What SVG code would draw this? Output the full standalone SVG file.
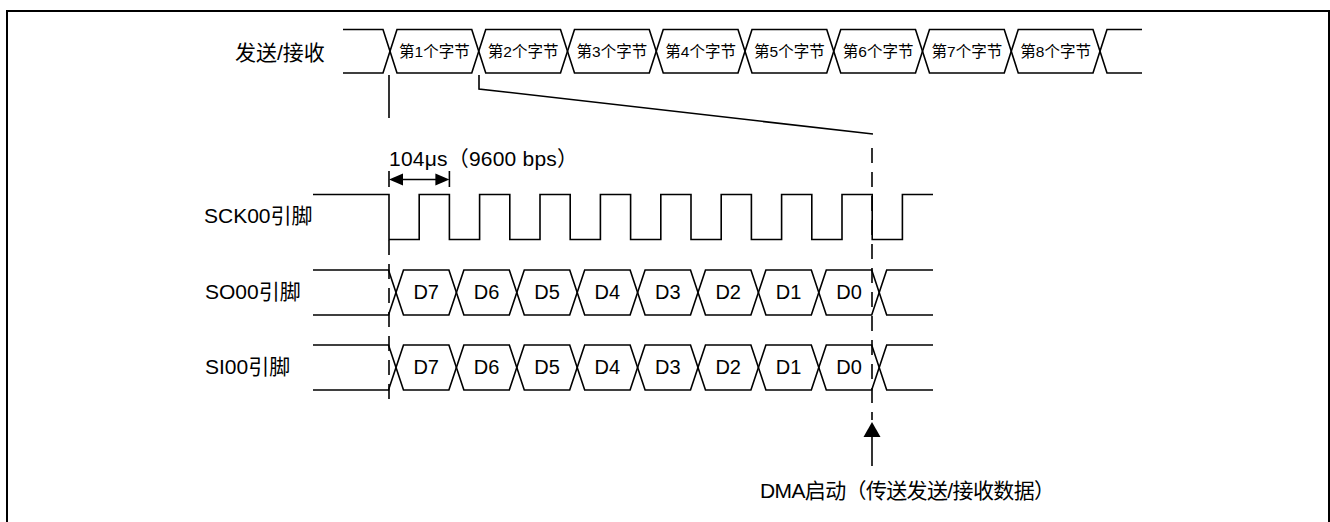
<svg xmlns="http://www.w3.org/2000/svg" width="1330" height="522" viewBox="0 0 1330 522">
<style>
.w{fill:none;stroke:#000;stroke-width:1.6;stroke-linejoin:miter}
.d{fill:none;stroke:#000;stroke-width:1.6;stroke-dasharray:15 9}
.t{font-family:"Liberation Sans","Noto Sans CJK SC",sans-serif;fill:#000}
.lb{font-size:21px}
.by{font-size:15.5px;text-anchor:middle}
.dt{font-size:20px;text-anchor:middle}
</style>
<rect x="7" y="11" width="1322" height="530" fill="#fff" stroke="#000" stroke-width="2"/>
<g id="label-bus"><text class="t lb" x="235" y="60">发送/接收</text></g>
<g id="label-sck"><text class="t lb" x="204" y="223">SCK00引脚</text></g>
<g id="label-so"><text class="t lb" x="205" y="299">SO00引脚</text></g>
<g id="label-si"><text class="t lb" x="205" y="374">SI00引脚</text></g>
<g id="bus">
<polyline class="w" points="343,29.5 383,29.5 397,73 471.75,73 485.75,29.5 560.5,29.5 574.5,73 649.25,73 663.25,29.5 738,29.5 752,73 826.75,73 840.75,29.5 915.5,29.5 929.5,73 1004.25,73 1018.25,29.5 1093,29.5 1107,73 1142,73"/>
<polyline class="w" points="343,73 383,73 397,29.5 471.75,29.5 485.75,73 560.5,73 574.5,29.5 649.25,29.5 663.25,73 738,73 752,29.5 826.75,29.5 840.75,73 915.5,73 929.5,29.5 1004.25,29.5 1018.25,73 1093,73 1107,29.5 1142,29.5"/>
<text class="t by" x="434.4" y="57">第1个字节</text>
<text class="t by" x="523.1" y="57">第2个字节</text>
<text class="t by" x="611.9" y="57">第3个字节</text>
<text class="t by" x="700.6" y="57">第4个字节</text>
<text class="t by" x="789.4" y="57">第5个字节</text>
<text class="t by" x="878.1" y="57">第6个字节</text>
<text class="t by" x="966.9" y="57">第7个字节</text>
<text class="t by" x="1055.6" y="57">第8个字节</text>
</g>
<g id="sck">
<path class="w" d="M313,194.5 H389 V239.5 H419.2 V194.5 H449.4 V239.5 H479.6 V194.5 H509.8 V239.5 H540 V194.5 H570.2 V239.5 H600.4 V194.5 H630.6 V239.5 H660.8 V194.5 H691 V239.5 H721.2 V194.5 H751.4 V239.5 H781.6 V194.5 H811.8 V239.5 H842 V194.5 H872.2 V239.5 H902.4 V194.5 H933"/>
</g>
<g id="so">
<polyline class="w" points="313,270 388.5,270 403.5,315 448.9,315 463.9,270 509.3,270 524.3,315 569.7,315 584.7,270 630.1,270 645.1,315 690.5,315 705.5,270 750.9,270 765.9,315 811.3,315 826.3,270 871.7,270 886.7,315 933,315"/>
<polyline class="w" points="313,315 388.5,315 403.5,270 448.9,270 463.9,315 509.3,315 524.3,270 569.7,270 584.7,315 630.1,315 645.1,270 690.5,270 705.5,315 750.9,315 765.9,270 811.3,270 826.3,315 871.7,315 886.7,270 933,270"/>
<text class="t dt" x="426.2" y="299">D7</text>
<text class="t dt" x="486.6" y="299">D6</text>
<text class="t dt" x="547" y="299">D5</text>
<text class="t dt" x="607.4" y="299">D4</text>
<text class="t dt" x="667.8" y="299">D3</text>
<text class="t dt" x="728.2" y="299">D2</text>
<text class="t dt" x="788.6" y="299">D1</text>
<text class="t dt" x="849" y="299">D0</text>
</g>
<g id="si">
<polyline class="w" points="313,345 388.5,345 403.5,390 448.9,390 463.9,345 509.3,345 524.3,390 569.7,390 584.7,345 630.1,345 645.1,390 690.5,390 705.5,345 750.9,345 765.9,390 811.3,390 826.3,345 871.7,345 886.7,390 933,390"/>
<polyline class="w" points="313,390 388.5,390 403.5,345 448.9,345 463.9,390 509.3,390 524.3,345 569.7,345 584.7,390 630.1,390 645.1,345 690.5,345 705.5,390 750.9,390 765.9,345 811.3,345 826.3,390 871.7,390 886.7,345 933,345"/>
<text class="t dt" x="426.2" y="374">D7</text>
<text class="t dt" x="486.6" y="374">D6</text>
<text class="t dt" x="547" y="374">D5</text>
<text class="t dt" x="607.4" y="374">D4</text>
<text class="t dt" x="667.8" y="374">D3</text>
<text class="t dt" x="728.2" y="374">D2</text>
<text class="t dt" x="788.6" y="374">D1</text>
<text class="t dt" x="849" y="374">D0</text>
</g>
<g id="period">
<text class="t" x="389" y="166" font-size="21" textLength="189" lengthAdjust="spacing">104μs（9600 bps）</text>
<line class="w" x1="389" y1="171" x2="389" y2="187"/>
<line class="w" x1="449.4" y1="171" x2="449.4" y2="187"/>
<line class="w" x1="400" y1="179.5" x2="438" y2="179.5"/>
<polygon points="389,179.5 403,173.5 403,185.5" fill="#000"/>
<polygon points="449.4,179.5 435.4,173.5 435.4,185.5" fill="#000"/>
</g>
<g id="dma">
<line class="w" x1="872" y1="437" x2="872" y2="466"/>
<polygon points="872,422 863.5,437 880.5,437" fill="#000"/>
<text class="t" x="760" y="498" font-size="21" textLength="295" lengthAdjust="spacing">DMA启动（传送发送/接收数据）</text>
</g>
<g id="connectors">
<line class="w" x1="389" y1="75" x2="389" y2="118"/>
<line class="d" x1="389" y1="240" x2="389" y2="402"/>
<polyline class="w" points="479,75 479,89 873,134"/>
<line class="d" x1="872" y1="148" x2="872" y2="420"/>
</g>
</svg>
